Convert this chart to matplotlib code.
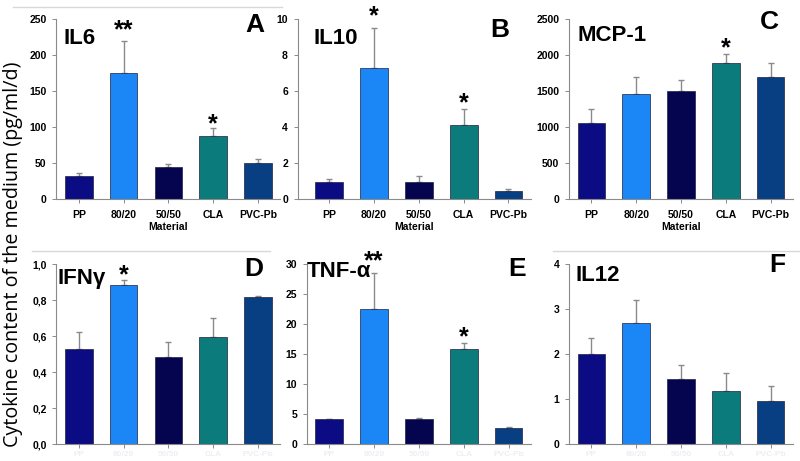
import matplotlib
matplotlib.use("Agg")
import matplotlib.pyplot as plt
from matplotlib.lines import Line2D

# cytokine release per material
materials = ['PP', '80/20', '50/50', 'CLA', 'PVC-Pb']
bar_colors = ['#0b0b84', '#1b87f6', '#05054f', '#0b7b7b', '#073f82']

il6 = [32, 175, 45, 88, 50]
il6_err = [4, 45, 4, 10, 6]
il10 = [0.95, 7.3, 0.95, 4.1, 0.42]
il10_err = [0.15, 2.2, 0.33, 0.9, 0.13]
mcp1 = [1050, 1460, 1500, 1890, 1700]
mcp1_err = [200, 230, 150, 130, 190]
ifng = [0.53, 0.885, 0.485, 0.595, 0.815]
ifng_err = [0.09, 0.025, 0.08, 0.105, 0.01]
tnfa = [4.1, 22.5, 4.1, 15.9, 2.7]
tnfa_err = [0.1, 6.0, 0.3, 0.9, 0.2]
il12 = [2.0, 2.7, 1.45, 1.18, 0.95]
il12_err = [0.35, 0.5, 0.3, 0.39, 0.33]

# significance marks per panel (bar index, text, offset px above error bar)
stars_A = [(1, '**', 17), (3, '*', 11)]
stars_B = [(1, '*', 19), (3, '*', 13)]
stars_C = [(3, '*', 12)]
stars_D = [(1, '*', 12)]
stars_E = [(1, '**', 19), (3, '*', 13)]
stars_F = []

W, H = 800, 461
fig = plt.figure(figsize=(8, 4.61), dpi=100)
plt.rcParams['font.family'] = ['Liberation Sans', 'DejaVu Sans']

SP = 44.8  # px per category


def make_axes(x_left, y_bottom, left_extra=0.0):
    # pixel position -> figure fraction
    width = (5 + left_extra) * SP
    ax = fig.add_axes([x_left / W, 1 - y_bottom / H, width / W, 180 / H])
    ax.set_xlim(-0.5 - left_extra, 4.5)
    return ax


def panel(ax, vals, errs, ymax, step, fmt, name, name_pos, letter, letter_pos,
          stars, show_labels=True):
    x = range(len(vals))
    ax.bar(x, vals, width=0.62, color=bar_colors, edgecolor='#202040',
           linewidth=0.5, zorder=2)
    ax.errorbar(x, vals, yerr=[[0] * len(errs), errs], fmt='none',
                ecolor='#8a8a8a', elinewidth=1.0, capsize=2.5, capthick=1.0,
                zorder=1)
    ax.set_ylim(0, ymax)
    ticks = [i * step for i in range(int(round(ymax / step)) + 1)]
    ax.set_yticks(ticks)
    ax.set_yticklabels([fmt(t) for t in ticks], fontsize=7.5, fontweight='bold')
    ax.set_xticks(list(x))
    if show_labels:
        ax.set_xticklabels(materials, fontsize=7.5, fontweight='bold')
        ax.set_xlabel('Material', fontsize=7.5, fontweight='bold', labelpad=1)
        ax.tick_params(axis='x', pad=5)
    else:
        # labels are almost washed out in the bottom row
        ax.set_xticklabels(materials, fontsize=6, fontweight='bold',
                           color='#eeeef4')
        ax.tick_params(axis='x', pad=2)
    for s in ['top', 'right']:
        ax.spines[s].set_visible(False)
    for s in ['left', 'bottom']:
        ax.spines[s].set_color('#8a8a8a')
        ax.spines[s].set_linewidth(0.8)
    ax.tick_params(axis='both', length=3, width=0.7, color='#8a8a8a')
    ax.tick_params(axis='y', pad=4)
    ax.text(name_pos[0], name_pos[1], name, transform=ax.transAxes,
            fontsize=16, fontweight='bold', va='top', ha='left')
    ax.text(letter_pos[0], letter_pos[1], letter, transform=ax.transAxes,
            fontsize=19, fontweight='bold', va='top', ha='center')
    for i, txt, off in stars:
        # asterisk glyph sits ~14 px above the baseline at this size
        ax.annotate(txt, (i, vals[i] + errs[i]), xytext=(0, off - 14),
                    textcoords='offset pixels', ha='center', va='baseline',
                    fontsize=18, fontweight='bold')


int_fmt = lambda v: '%d' % v
comma1 = lambda v: ('%.1f' % v).replace('.', ',')

axA = make_axes(56.4, 199)
panel(axA, il6, il6_err, 250, 50, int_fmt, 'IL6', (0.03, 0.95), 'A',
      (0.887, 1.035), stars_A)
axB = make_axes(297.7, 199, left_extra=0.205)
panel(axB, il10, il10_err, 10, 2, int_fmt, 'IL10', (0.066, 0.95), 'B',
      (0.868, 1.005), stars_B)
axC = make_axes(569, 199)
panel(axC, mcp1, mcp1_err, 2500, 500, int_fmt, 'MCP-1', (0.036, 0.967), 'C',
      (0.893, 1.05), stars_C)
axD = make_axes(56.4, 444)
panel(axD, ifng, ifng_err, 1.0, 0.2, comma1, 'IFNγ', (0.007, 0.978), 'D',
      (0.882, 1.039), stars_D, show_labels=False)
axE = make_axes(306.9, 444)
panel(axE, tnfa, tnfa_err, 30, 5, int_fmt, 'TNF-α', (0.0, 1.015), 'E',
      (0.938, 1.039), stars_E, show_labels=False)
axF = make_axes(569, 444)
panel(axF, il12, il12_err, 4, 1, int_fmt, 'IL12', (0.027, 0.994), 'F',
      (0.93, 1.06), stars_F, show_labels=False)

# light plot-area borders left over from the original figure
for x0, x1, y in [(13, 282, 7), (32, 270, 251), (553, 800, 251)]:
    fig.add_artist(Line2D([x0 / W, x1 / W], [1 - y / H, 1 - y / H],
                          color='#d8d8d8', linewidth=1.0))

fig.text(0.016, 1 - 254 / H, 'Cytokine content of the medium (pg/ml/d)',
         rotation=90, va='center', ha='center', fontsize=14.2,
         family=['Open Sans', 'DejaVu Sans'])

fig.savefig('out.png', dpi=100)
